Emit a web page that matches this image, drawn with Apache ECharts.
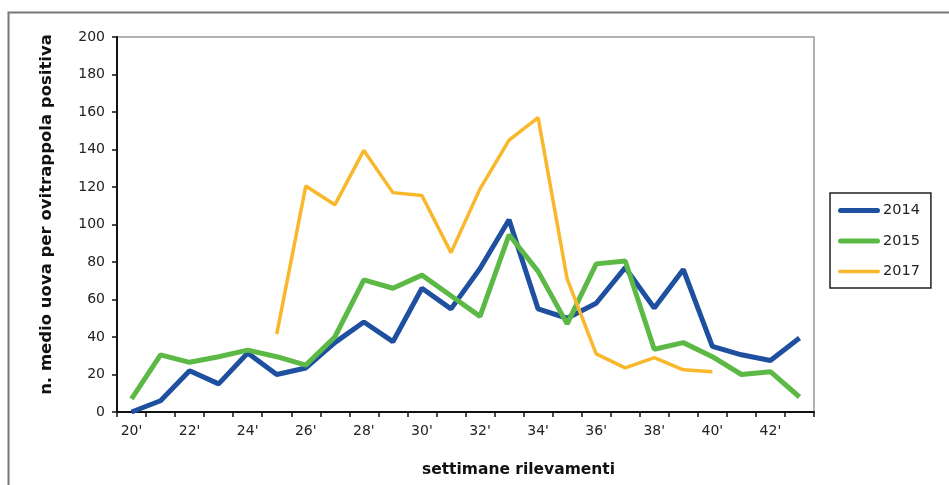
<!DOCTYPE html>
<html>
<head>
<meta charset="utf-8">
<script src="https://cdn.jsdelivr.net/npm/echarts@6/dist/echarts.min.js"></script>
<style>
html,body{margin:0;padding:0;background:#fff;}
#chart{width:949px;height:485px;}
</style>
</head>
<body>
<div id="chart"></div>
<script>
const weeks = ["20'","21'","22'","23'","24'","25'","26'","27'","28'","29'","30'","31'","32'","33'","34'","35'","36'","37'","38'","39'","40'","41'","42'","43'"];
const s2014 = [0, 6, 22, 15, 31.5, 20, 23.5, 37, 48, 37.5, 66, 55, 76.5, 102.5, 55, 50, 58, 77, 55.5, 76, 35, 30.5, 27.5, 39.5];
const s2015 = [7, 30.5, 26.5, 29.5, 33, 29.5, 25, 40, 70.5, 66, 73, 62, 51, 94.5, 75, 47, 79, 80.5, 33.5, 37, 29.5, 20, 21.5, 8];
const s2017 = [null, null, null, null, null, 41.5, 120.5, 110.5, 139.5, 117, 115.5, 85, 119, 145, 157, 71, 31, 23.5, 29, 22.5, 21.5, null, null, null];
const seriesNames = ['2014', '2015', '2017'];
const yTicks = {min: 0, max: 200, interval: 20};

const FONT = '"DejaVu Sans", "Liberation Sans", Arial, sans-serif';
const thickIcon = 'path://M2.5,0 L39.5,0 A2.5,2.5 0 0 1 39.5,5 L2.5,5 A2.5,2.5 0 0 1 2.5,0 Z';
const thinIcon = 'path://M1.75,0 L40.25,0 A1.75,1.75 0 0 1 40.25,3.5 L1.75,3.5 A1.75,1.75 0 0 1 1.75,0 Z';

const chart = echarts.init(document.getElementById('chart'), null, {renderer: 'canvas'});
chart.setOption({
  backgroundColor: '#ffffff',
  animation: false,
  textStyle: {fontFamily: FONT},
  graphic: [{
    type: 'rect', left: 6, top: 10, silent: true,
    shape: {x: 0, y: 0, width: 1000, height: 600},
    style: {fill: 'none', stroke: '#777', lineWidth: 2}
  }],
  grid: {left: 117, top: 37, right: 135, bottom: 73, show: true, borderColor: '#999', borderWidth: 1.5, backgroundColor: 'transparent'},
  legend: {
    orient: 'vertical', left: 830, top: 193,
    padding: [10, 11, 9, 8],
    itemWidth: 42, itemHeight: 14, itemGap: 15.5,
    borderColor: '#222', borderWidth: 1.5,
    textStyle: {fontFamily: FONT, fontSize: 14.5, color: '#222', padding: [0, 0, 0, -2]},
    data: [
      {name: seriesNames[0], icon: thickIcon},
      {name: seriesNames[1], icon: thickIcon},
      {name: seriesNames[2], icon: thinIcon}
    ]
  },
  xAxis: {
    type: 'category', data: weeks, boundaryGap: true,
    name: 'settimane rilevamenti', nameLocation: 'middle', nameGap: 50,
    nameTextStyle: {fontFamily: FONT, fontSize: 15.5, fontWeight: 'bold', color: '#111', padding: [0, 0, 0, 106]},
    axisLine: {lineStyle: {color: '#111', width: 2}},
    axisTick: {show: true, length: 5, lineStyle: {color: '#111', width: 1.5}, interval: 0},
    axisLabel: {interval: 1, margin: 12, fontFamily: FONT, fontSize: 14, color: '#222'},
    splitLine: {show: false}
  },
  yAxis: {
    type: 'value', min: yTicks.min, max: yTicks.max, interval: yTicks.interval,
    name: 'n. medio uova per ovitrappola positiva', nameLocation: 'middle', nameGap: 62,
    nameTextStyle: {fontFamily: FONT, fontSize: 16.5, fontWeight: 'bold', color: '#111', padding: [0, 0, 0, 20]},
    axisLine: {show: true, lineStyle: {color: '#111', width: 2}},
    axisTick: {show: true, length: 5, lineStyle: {color: '#111', width: 1.5}},
    axisLabel: {margin: 12, fontFamily: FONT, fontSize: 14, color: '#222'},
    splitLine: {show: false}
  },
  series: [
    {name: seriesNames[0], type: 'line', data: s2014, symbol: 'none', color: '#1f50a0', lineStyle: {width: 5, color: '#1f50a0'}},
    {name: seriesNames[1], type: 'line', data: s2015, symbol: 'none', color: '#5cb946', lineStyle: {width: 5, color: '#5cb946'}},
    {name: seriesNames[2], type: 'line', data: s2017, symbol: 'none', color: '#f9b82b', lineStyle: {width: 3.5, color: '#f9b82b'}, connectNulls: false}
  ]
});
</script>
</body>
</html>
